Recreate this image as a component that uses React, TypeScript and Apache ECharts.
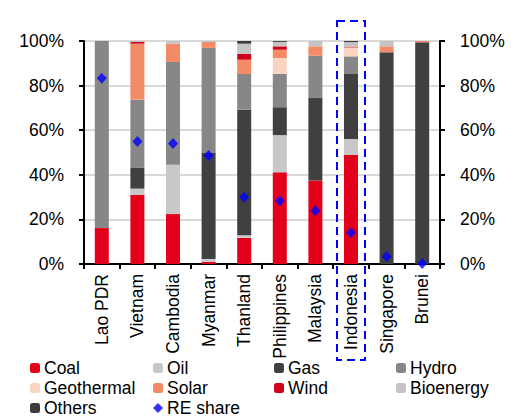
import React, { useEffect, useRef } from "react";
import * as echarts from "echarts";

const categories = ["Lao PDR", "Vietnam", "Cambodia", "Myanmar", "Thanland", "Philippines", "Malaysia", "Indonesia", "Singapore", "Brunei"];

const coal = [16.1, 31.1, 22.4, 1.0, 11.7, 41.1, 37.4, 48.9, 0, 0];
const oil = [0, 2.7, 22.1, 1.2, 1.2, 16.7, 0, 7.2, 0, 0];
const gas = [0, 9.5, 0, 47.6, 56.3, 12.5, 37.0, 29.1, 94.9, 99.4];
const hydro = [83.9, 30.4, 46.1, 47.1, 16.0, 14.9, 19.0, 7.9, 0, 0];
const geothermal = [0, 0, 0, 0, 0, 7.2, 0, 3.8, 0, 0];
const solar = [0, 25.1, 8.2, 2.7, 6.4, 3.7, 4.2, 0.3, 2.7, 0.6];
const wind = [0, 0.8, 0, 0, 2.6, 1.5, 0, 0.1, 0, 0];
const bioenergy = [0, 0.4, 1.2, 0.4, 4.6, 2.0, 2.4, 2.2, 2.4, 0];
const others = [0, 0, 0, 0, 1.2, 0.4, 0, 0.5, 0, 0];
const reShare = [83.3, 54.9, 54.0, 48.6, 29.9, 28.4, 23.9, 14.0, 3.4, 0.2];

const yTicks = [0, 20, 40, 60, 80, 100];

const FONT = "'Liberation Sans', Arial, sans-serif";
const FS = 17.5;

export default function App() {
  const ref = useRef<HTMLDivElement>(null);
  useEffect(() => {
    if (!ref.current) return;
    const chart = echarts.init(ref.current, null, { renderer: "svg" });
    const stackDefs: [string, number[], string][] = [
      ["Coal", coal, "#E2001A"],
      ["Oil", oil, "#C8C8C8"],
      ["Gas", gas, "#404040"],
      ["Hydro", hydro, "#878787"],
      ["Geothermal", geothermal, "#FBD3C2"],
      ["Solar", solar, "#F28B66"],
      ["Wind", wind, "#D0021B"],
      ["Bioenergy", bioenergy, "#C4C4C4"],
      ["Others", others, "#3C3C3C"],
    ];
    const barSeries = stackDefs.map(([name, data, color]) => ({
      name,
      type: "bar",
      stack: "total",
      barWidth: 14,
      data,
      itemStyle: { color },
    }));
    const yAxisBase = {
      type: "value",
      min: yTicks[0],
      max: yTicks[yTicks.length - 1],
      interval: 20,
      axisLine: { show: true, lineStyle: { color: "#000", width: 2 } },
      axisTick: { show: true, length: 5, lineStyle: { color: "#000", width: 2 } },
      axisLabel: { formatter: "{value}%", fontSize: FS, color: "#000", fontFamily: FONT, margin: 20 },
    };
    const legendBase = {
      orient: "vertical",
      top: 359,
      height: 60,
      itemWidth: 10,
      itemHeight: 10,
      itemGap: 2,
      padding: 0,
      textStyle: { fontSize: FS, color: "#000", fontFamily: FONT, lineHeight: 18, padding: [0, 0, 0, -1] },
    };
    chart.setOption({
      animation: false,
      grid: { left: 84, right: 78, top: 41, bottom: 155, containLabel: false },
      legend: [
        { ...legendBase, left: 30, data: ["Coal", "Geothermal", "Others"] },
        { ...legendBase, left: 153, data: ["Oil", "Solar", "RE share"] },
        { ...legendBase, left: 274, data: ["Gas", "Wind"] },
        { ...legendBase, left: 396, data: ["Hydro", "Bioenergy"] },
      ],
      xAxis: {
        type: "category",
        data: categories,
        axisLine: { lineStyle: { color: "#000", width: 2 } },
        axisTick: { show: true, length: 5, alignWithLabel: false, lineStyle: { color: "#000", width: 2 } },
        axisLabel: { rotate: 90, fontSize: FS, color: "#000", fontFamily: FONT, margin: 10, interval: 0 },
      },
      yAxis: [
        { ...yAxisBase, position: "left", splitLine: { show: true, lineStyle: { color: "#D9D9D9", width: 2 } } },
        { ...yAxisBase, position: "right", splitLine: { show: false } },
      ],
      series: [
        ...barSeries,
        {
          name: "RE share",
          type: "scatter",
          data: reShare,
          symbol: "diamond",
          symbolSize: [10, 11],
          itemStyle: { color: "#0000FF" },
          z: 10,
        },
      ],
    });
    const cx = chart.convertToPixel({ xAxisIndex: 0 }, "Indonesia") as number;
    chart.setOption({
      graphic: [
        {
          type: "rect",
          shape: { x: cx - 14, y: 21, width: 28, height: 339 },
          style: { fill: "none", stroke: "#0000FF", lineWidth: 2, lineDash: [8, 5] },
          z: 100,
        },
      ],
    });
    return () => chart.dispose();
  }, []);
  return <div ref={ref} style={{ position: "fixed", left: 0, top: 0, width: 518, height: 419, background: "#fff" }} />;
}
